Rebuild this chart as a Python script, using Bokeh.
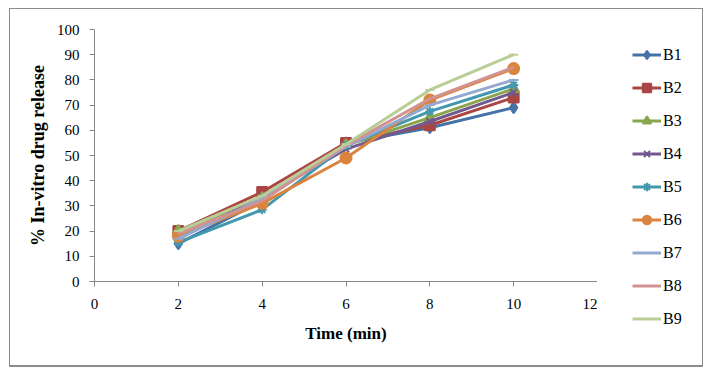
from bokeh.plotting import figure
from bokeh.layouts import row
from bokeh.models import Range1d, Legend, LegendItem, FixedTicker
from bokeh.embed import file_html
from bokeh.resources import INLINE

# Dissolution time points (min)
time_min = [2, 4, 6, 8, 10]

# % in-vitro drug release for each batch
batches = ["B1", "B2", "B3", "B4", "B5", "B6", "B7", "B8", "B9"]
b1 = [15.0, 32.0, 55.0, 61.0, 69.0]
b2 = [20.0, 35.5, 55.0, 62.0, 73.0]
b3 = [20.0, 33.0, 54.0, 65.0, 76.5]
b4 = [17.0, 33.5, 52.5, 63.5, 75.0]
b5 = [15.5, 28.5, 54.0, 67.5, 78.0]
b6 = [18.0, 31.0, 49.0, 72.0, 84.5]
b7 = [17.0, 33.0, 53.5, 70.0, 80.0]
b8 = [19.0, 32.0, 54.0, 72.5, 85.0]
b9 = [20.0, 34.0, 54.5, 76.0, 90.0]
release = [b1, b2, b3, b4, b5, b6, b7, b8, b9]

x_ticks = [0, 2, 4, 6, 8, 10, 12]
y_ticks = [0, 10, 20, 30, 40, 50, 60, 70, 80, 90, 100]

colors = ["#4572A7", "#AA4643", "#89A54E", "#71588F", "#4198AF",
          "#DB843D", "#93A9CF", "#D19392", "#B9CD96"]
markers = ["diamond", "square", "triangle", "x", "asterisk",
           "circle", "dash", None, "dash"]
marker_sizes = [11, 10, 11, 9, 9, 11, 10, 0, 9]

FONT = "Liberation Serif"
AXIS_GREY = "#868686"

# main plot: axes and the release curves
p = figure(width=587, height=356, output_backend="svg", toolbar_location=None,
           x_range=Range1d(0, 12), y_range=Range1d(0, 100),
           min_border_left=84, min_border_right=0,
           min_border_top=20, min_border_bottom=84)
p.frame_align = False
p.outline_line_color = None
p.xgrid.visible = False
p.ygrid.visible = False
p.background_fill_color = "white"
p.border_fill_color = "white"

for ax, ticks in ((p.xaxis[0], x_ticks), (p.yaxis[0], y_ticks)):
    ax.ticker = FixedTicker(ticks=ticks)
    ax.minor_tick_line_color = None
    ax.axis_line_color = AXIS_GREY
    ax.major_tick_line_color = AXIS_GREY
    ax.major_tick_in = 0
    ax.major_tick_out = 5
    ax.major_label_text_font = FONT
    ax.major_label_text_font_size = "15px"
    ax.major_label_text_color = "black"
    ax.axis_label_text_font = FONT
    ax.axis_label_text_font_style = "bold"
    ax.axis_label_text_color = "black"

p.xaxis.axis_label = "Time (min)"
p.yaxis.axis_label = "% In-vitro drug release"
p.xaxis.axis_label_text_font_size = "17px"
p.yaxis.axis_label_text_font_size = "18px"
p.xaxis.major_label_standoff = 12
p.yaxis.major_label_standoff = 10
p.xaxis.axis_label_standoff = 12
p.yaxis.axis_label_standoff = 6

# side panel holding the legend; its own ranges keep the key copies out of view
lg = figure(width=105, height=356, output_backend="svg", toolbar_location=None,
            x_range=Range1d(0, 1), y_range=Range1d(0, 1),
            min_border=0, x_axis_type=None, y_axis_type=None)
lg.frame_align = False
lg.outline_line_color = None
lg.xgrid.visible = False
lg.ygrid.visible = False
lg.background_fill_color = "white"
lg.border_fill_color = "white"

items = []
for name, vals, col, mk, ms in zip(batches, release, colors, markers, marker_sizes):
    p.line(time_min, vals, line_color=col, line_width=3)
    key = [lg.line(time_min, vals, line_color=col, line_width=3)]
    if mk is not None:
        p.scatter(time_min, vals, marker=mk, size=ms,
                  fill_color=col, line_color=col, line_width=2)
        key.append(lg.scatter(time_min, vals, marker=mk, size=ms,
                              fill_color=col, line_color=col, line_width=2))
    items.append(LegendItem(label=name, renderers=key))

legend = Legend(items=items, location="top_left",
                glyph_width=29, glyph_height=21, label_height=21,
                spacing=12, label_standoff=2, padding=0, margin=35,
                label_text_font=FONT, label_text_font_size="16px",
                label_text_color="black",
                border_line_color=None, background_fill_alpha=0)
lg.add_layout(legend)

# chart-area frame drawn around the whole chart
page = row(p, lg, margin=(8, 0, 0, 9),
           styles={"border": "1px solid #8c8c8c",
                   "border-bottom": "2px solid #8c8c8c",
                   "background-color": "white"})

open("out.html", "w").write(file_html(page, INLINE))
